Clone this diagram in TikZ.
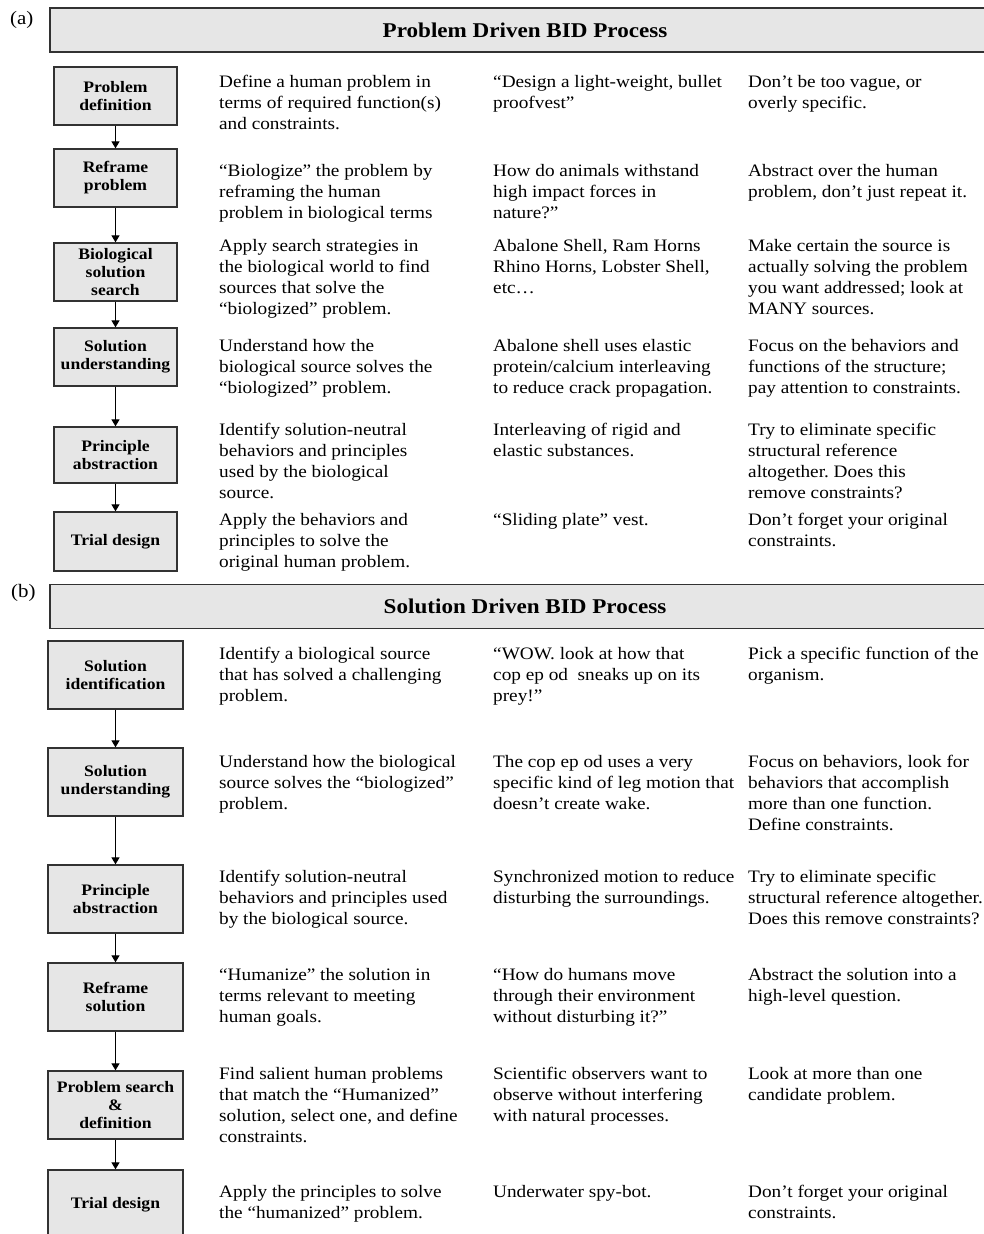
\documentclass[tikz,border=0pt]{standalone}
\usepackage{fontspec}
\setmainfont[FakeStretch=1.1]{Liberation Serif}
\usepackage{tikz}
\usetikzlibrary{arrows.meta, positioning}
\frenchspacing
\definecolor{BoxFill}{RGB}{230,230,230}
\definecolor{BoxLine}{RGB}{50,50,50}
\tikzstyle{stepbox} = [draw=BoxLine, line width=1.3pt, fill=BoxFill, align=center, inner sep=2pt, font=\fontsize{16}{18}\selectfont\bfseries]
\tikzstyle{headbox} = [draw=BoxLine, line width=1.3pt, fill=BoxFill, minimum width=950pt, minimum height=44pt, font=\fontsize{21}{24}\selectfont\bfseries]
\tikzstyle{desc} = [anchor=north west, align=left, inner sep=0pt, font=\fontsize{17.5}{21}\selectfont]
\tikzstyle{panel} = [anchor=north west, inner sep=0pt, font=\fontsize{19}{21}\selectfont]
\tikzstyle{arrow} = [line width=1.1pt, black, -{Triangle[width=8pt,length=7pt]}]

\begin{document}
\begin{tikzpicture}[x=1pt, y=-1pt]
\useasboundingbox (0,0) rectangle (984,1234);
\begin{scope}
\clip (0,0) rectangle (984,1234);

% (a) problem driven
\node[panel] (labA) at (10,11) {(a)};
\node[headbox] (hdA) at (525,30) {Problem Driven BID Process};

\begin{scope}[every node/.append style={minimum width=123pt}]
\node[stepbox, minimum height=58pt] (pdA) at (115.5,96) {Problem\\definition};
\node[stepbox, minimum height=58pt] (rpA) at (115.5,178) {Reframe\\problem};
\node[stepbox, minimum height=58pt] (bsA) at (115.5,272) {Biological\\solution\\search};
\node[stepbox, minimum height=58pt] (suA) at (115.5,357) {Solution\\understanding};
\node[stepbox, minimum height=56pt] (paA) at (115.5,455) {Principle\\abstraction};
\node[stepbox, minimum height=59pt] (tdA) at (115.5,541.5) {Trial design};
\end{scope}

\draw[arrow] (pdA) -- (rpA);
\draw[arrow] (rpA) -- (bsA);
\draw[arrow] (bsA) -- (suA);
\draw[arrow] (suA) -- (paA);
\draw[arrow] (paA) -- (tdA);

\node[desc] (doA1) at (219,75) {Define a human problem in\\terms of required function(s)\\and constraints.};
\node[desc] (exA1) at (493,75) {“Design a light-weight, bullet\\proofvest”};
\node[desc] (tipA1) at (748,75) {Don’t be too vague, or\\overly specific.};

\node[desc] (doA2) at (219,164) {“Biologize” the problem by\\reframing the human\\problem in biological terms};
\node[desc] (exA2) at (493,164) {How do animals withstand\\high impact forces in\\nature?”};
\node[desc] (tipA2) at (748,164) {Abstract over the human\\problem, don’t just repeat it.};

\node[desc] (doA3) at (219,239) {Apply search strategies in\\the biological world to find\\sources that solve the\\“biologized” problem.};
\node[desc] (exA3) at (493,239) {Abalone Shell, Ram Horns\\Rhino Horns, Lobster Shell,\\etc…};
\node[desc] (tipA3) at (748,239) {Make certain the source is\\actually solving the problem\\you want addressed; look at\\MANY sources.};

\node[desc] (doA4) at (219,339) {Understand how the\\biological source solves the\\“biologized” problem.};
\node[desc] (exA4) at (493,339) {Abalone shell uses elastic\\protein/calcium interleaving\\to reduce crack propagation.};
\node[desc] (tipA4) at (748,339) {Focus on the behaviors and\\functions of the structure;\\pay attention to constraints.};

\node[desc] (doA5) at (219,423) {Identify solution-neutral\\behaviors and principles\\used by the biological\\source.};
\node[desc] (exA5) at (493,423) {Interleaving of rigid and\\elastic substances.};
\node[desc] (tipA5) at (748,423) {Try to eliminate specific\\structural reference\\altogether. Does this\\remove constraints?};

\node[desc] (doA6) at (219,513) {Apply the behaviors and\\principles to solve the\\original human problem.};
\node[desc] (exA6) at (493,513) {“Sliding plate” vest.};
\node[desc] (tipA6) at (748,513) {Don’t forget your original\\constraints.};

% (b) solution driven
\node[panel] (labB) at (11,584) {(b)};
\node[headbox] (hdB) at (525,606.5) {Solution Driven BID Process};

\begin{scope}[every node/.append style={minimum width=135pt, minimum height=68pt}]
\node[stepbox] (siB) at (115.5,675) {Solution\\identification};
\node[stepbox] (suB) at (115.5,782) {Solution\\understanding};
\node[stepbox] (paB) at (115.5,899) {Principle\\abstraction};
\node[stepbox] (rsB) at (115.5,997) {Reframe\\solution};
\node[stepbox] (psB) at (115.5,1105) {Problem search\\\&\\definition};
\node[stepbox, minimum height=70pt] (tdB) at (115.5,1205) {Trial design};
\end{scope}

\draw[arrow] (siB) -- (suB);
\draw[arrow] (suB) -- (paB);
\draw[arrow] (paB) -- (rsB);
\draw[arrow] (rsB) -- (psB);
\draw[arrow] (psB) -- (tdB);

\node[desc] (doB1) at (219,647) {Identify a biological source\\that has solved a challenging\\problem.};
\node[desc] (exB1) at (493,647) {“WOW. look at how that\\cop ep od\ \ sneaks up on its\\prey!”};
\node[desc] (tipB1) at (748,647) {Pick a specific function of the\\organism.};

\node[desc] (doB2) at (219,755) {Understand how the biological\\source solves the “biologized”\\problem.};
\node[desc] (exB2) at (493,755) {The cop ep od uses a very\\specific kind of leg motion that\\doesn’t create wake.};
\node[desc] (tipB2) at (748,755) {Focus on behaviors, look for\\behaviors that accomplish\\more than one function.\\Define constraints.};

\node[desc] (doB3) at (219,870) {Identify solution-neutral\\behaviors and principles used\\by the biological source.};
\node[desc] (exB3) at (493,870) {Synchronized motion to reduce\\disturbing the surroundings.};
\node[desc] (tipB3) at (748,870) {Try to eliminate specific\\structural reference altogether.\\Does this remove constraints?};

\node[desc] (doB4) at (219,968) {“Humanize” the solution in\\terms relevant to meeting\\human goals.};
\node[desc] (exB4) at (493,968) {“How do humans move\\through their environment\\without disturbing it?”};
\node[desc] (tipB4) at (748,968) {Abstract the solution into a\\high-level question.};

\node[desc] (doB5) at (219,1067) {Find salient human problems\\that match the “Humanized”\\solution, select one, and define\\constraints.};
\node[desc] (exB5) at (493,1067) {Scientific observers want to\\observe without interfering\\with natural processes.};
\node[desc] (tipB5) at (748,1067) {Look at more than one\\candidate problem.};

\node[desc] (doB6) at (219,1185) {Apply the principles to solve\\the “humanized” problem.};
\node[desc] (exB6) at (493,1185) {Underwater spy-bot.};
\node[desc] (tipB6) at (748,1185) {Don’t forget your original\\constraints.};

\end{scope}
\end{tikzpicture}
\end{document}
